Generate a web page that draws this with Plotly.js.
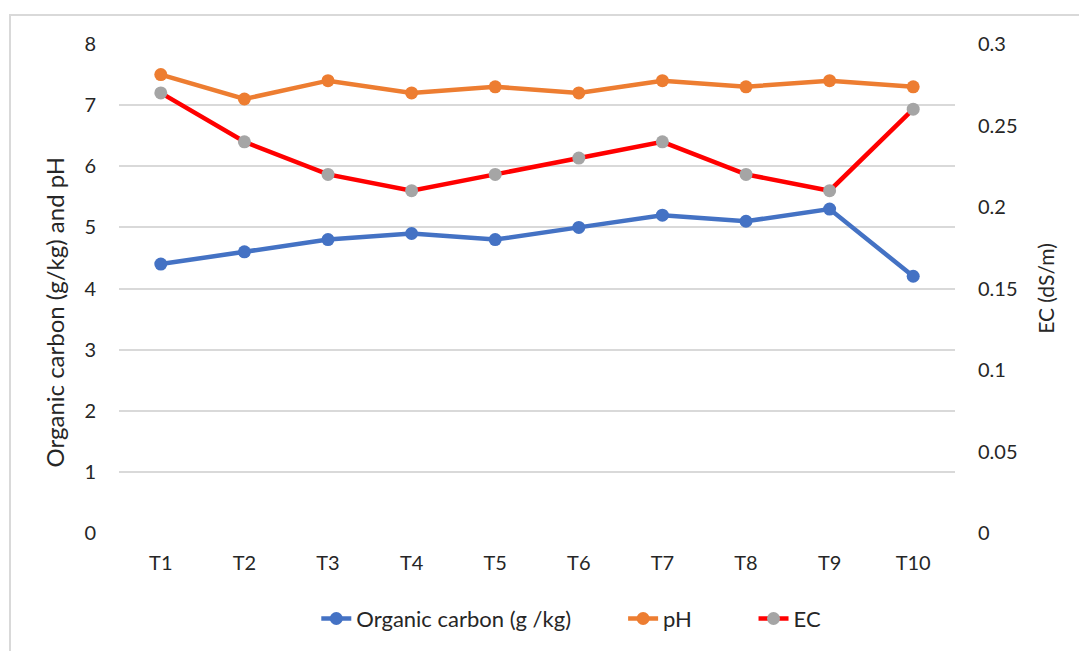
<!DOCTYPE html>
<html><head><meta charset="utf-8">
<script src="https://cdn.plot.ly/plotly-3.0.1.min.js"></script>
<style>html,body{margin:0;padding:0;background:#fff}#chart{width:1079px;height:651px}</style>
</head><body><div id="chart"></div>
<script>
const categories = ["T1","T2","T3","T4","T5","T6","T7","T8","T9","T10"];
const organicCarbon = [4.4, 4.6, 4.8, 4.9, 4.8, 5.0, 5.2, 5.1, 5.3, 4.2];
const pH = [7.5, 7.1, 7.4, 7.2, 7.3, 7.2, 7.4, 7.3, 7.4, 7.3];
const EC = [0.27, 0.24, 0.22, 0.21, 0.22, 0.23, 0.24, 0.22, 0.21, 0.26];
const leftTicks = [0,1,2,3,4,5,6,7,8];
const rightTicks = [0,0.05,0.1,0.15,0.2,0.25,0.3];
const rightTickText = ["0","0.05","0.1","0.15","0.2","0.25","0.3"];

const FONT = "Lato, 'Open Sans', sans-serif";
const traces = [
  {x: categories, y: organicCarbon, name: "Organic carbon (g /kg)", type: "scatter", mode: "lines+markers",
   line: {color: "#4472C4", width: 4.5}, marker: {color: "#4472C4", size: 13}, yaxis: "y", legend: "legend"},
  {x: categories, y: pH, name: "pH", type: "scatter", mode: "lines+markers",
   line: {color: "#ED7D31", width: 4.5}, marker: {color: "#ED7D31", size: 13}, yaxis: "y", legend: "legend2"},
  {x: categories, y: EC, name: "EC", type: "scatter", mode: "lines+markers",
   line: {color: "#FF0000", width: 4.5}, marker: {color: "#A5A5A5", size: 13}, yaxis: "y2", legend: "legend3"}
];
const legFont = {family: FONT, size: 22, color: "#262626"};
const legY = -0.13;
const layout = {
  width: 1079, height: 651,
  margin: {l: 119, r: 124, t: 44, b: 117},
  paper_bgcolor: "#fff", plot_bgcolor: "#fff",
  font: {family: FONT, size: 20, color: "#262626"},
  showlegend: true,
  legend: {orientation: "h", x: 0.236, xanchor: "left", y: legY, yanchor: "top", font: legFont, bgcolor: "rgba(0,0,0,0)"},
  legend2: {orientation: "h", x: 0.603, xanchor: "left", y: legY, yanchor: "top", font: legFont, bgcolor: "rgba(0,0,0,0)"},
  legend3: {orientation: "h", x: 0.759, xanchor: "left", y: legY, yanchor: "top", font: legFont, bgcolor: "rgba(0,0,0,0)"},
  xaxis: {type: "category", range: [-0.5, 9.5], showgrid: false, zeroline: false, showline: false,
          ticks: "", ticklabelstandoff: 16, tickfont: {size: 20}},
  yaxis: {range: [0, 8], tickvals: leftTicks, showgrid: true, gridcolor: "#D9D9D9", gridwidth: 2,
          zeroline: false, showline: false, ticks: "", ticklabelstandoff: 22, tickfont: {size: 20}},
  yaxis2: {range: [0, 0.3], overlaying: "y", side: "right", tickvals: rightTicks, ticktext: rightTickText,
           showgrid: false, zeroline: false, showline: false, ticks: "", ticklabelstandoff: 22, tickfont: {size: 20},
           title: {text: "EC (dS/m)", font: {size: 21}, standoff: 22}},
  annotations: [{text: "Organic carbon (g/kg) and pH", textangle: -90, xref: "paper", yref: "paper",
                 x: -0.0766, y: 0.453, xanchor: "center", yanchor: "middle", showarrow: false,
                 font: {family: FONT, size: 24, color: "#262626"}}],
  shapes: [{type: "rect", xref: "paper", yref: "paper", x0: -0.1304, x1: 1.16, y0: -0.26, y1: 1.0592,
            line: {color: "#D9D9D9", width: 2}, fillcolor: "rgba(0,0,0,0)", layer: "below"}]
};
Plotly.newPlot("chart", traces, layout, {displayModeBar: false, staticPlot: true});
</script></body></html>
